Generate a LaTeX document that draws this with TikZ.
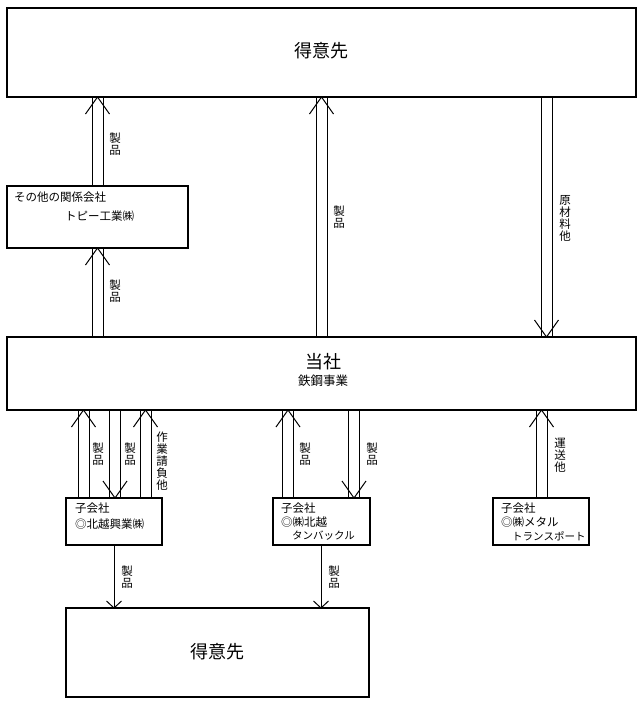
\documentclass[tikz,border=0pt]{standalone}
\usepackage{fontspec}
\setmainfont{Noto Sans CJK JP}
\usetikzlibrary{calc}
\tikzset{
  box/.style={draw, line width=1.3pt, inner sep=0pt, outer sep=0pt},
  arr/.style={line width=1pt, line join=miter},
  lbl/.style={font=\fontsize{11.5}{12}\selectfont, align=center, inner sep=0pt},
  txt/.style={font=\fontsize{11.5}{13}\selectfont, inner sep=0pt, anchor=west},
  big/.style={font=\fontsize{18}{20}\selectfont, inner sep=0pt},
}
\newcommand\dblarr[3]{%
  \coordinate (s) at (#1,0 |- #2);
  \coordinate (t) at (#1,0 |- #3);
  \draw[arr] ($(s)+(-5.5,0)$) -- ($(t)+(-5.5,0)$);
  \draw[arr] ($(s)+(5.5,0)$) -- ($(t)+(5.5,0)$);
  \draw[arr] ($(t)!17pt!(s)+(-12,0)$) -- (t) -- ($(t)!17pt!(s)+(12,0)$);
}
\newcommand\sglarr[3]{%
  \coordinate (s) at (#1,0 |- #2);
  \coordinate (t) at (#1,0 |- #3);
  \draw[arr] (s) -- (t);
  \draw[arr] ($(t)!7pt!(s)+(-7.5,0)$) -- (t) -- ($(t)!7pt!(s)+(7.5,0)$);
}
\begin{document}
\begin{tikzpicture}[x=1pt, y=-1pt]
\useasboundingbox (0,0) rectangle (642,705);
% boxes
\node[box, minimum width=629pt, minimum height=89pt] (top) at (321.5,52.5) {};
\node[box, minimum width=181pt, minimum height=62pt] (tobi) at (97.5,217) {};
\node[box, minimum width=629pt, minimum height=73pt] (hq) at (321.5,373.5) {};
\node[box, minimum width=96pt, minimum height=47pt] (sub1) at (114,521.5) {};
\node[box, minimum width=97pt, minimum height=47pt] (sub2) at (321.5,521.5) {};
\node[box, minimum width=96pt, minimum height=47pt] (sub3) at (541,521.5) {};
\node[box, minimum width=303pt, minimum height=89pt] (cust) at (217.5,652.5) {};
% texts
\node[big] (t1) at (321,51) {得意先};
\node[txt] (t2) at (14,197) {その他の関係会社};
\node[txt] (t3) at (65,216) {トピー工業㈱};
\node[big] (t4) at (323,362) {当社};
\node[font=\fontsize{12.5}{14}\selectfont, inner sep=0] (t5) at (323,381) {鉄鋼事業};
\node[txt] (t6) at (75,508) {子会社};
\node[txt] (t7) at (75,524) {◎北越興業㈱};
\node[txt] (t8) at (281,508) {子会社};
\node[txt] (t9) at (281,522) {◎㈱北越};
\node[txt, font=\fontsize{10.5}{12}\selectfont] (t10) at (292,536) {タンバックル};
\node[txt] (t11) at (501,508) {子会社};
\node[txt] (t12) at (501,522) {◎㈱メタル};
\node[txt, font=\fontsize{10.5}{12}\selectfont] (t13) at (512,536) {トランスポート};
\node[big] (t14) at (217,652) {得意先};
% arrows
\dblarr{97.5}{tobi.north}{top.south}
\node[lbl] (l1) at (115,144) {製\\品};
\dblarr{97.5}{hq.north}{tobi.south}
\node[lbl] (l2) at (115,291) {製\\品};
\dblarr{321.5}{hq.north}{top.south}
\node[lbl] (l3) at (339,217) {製\\品};
\dblarr{546.5}{top.south}{hq.north}
\node[lbl] (l4) at (565,218) {原\\材\\料\\他};
\dblarr{83.5}{sub1.north}{hq.south}
\node[lbl] (l5) at (98,454) {製\\品};
\dblarr{115}{hq.south}{sub1.north}
\node[lbl] (l6) at (130,454) {製\\品};
\dblarr{145.5}{sub1.north}{hq.south}
\node[lbl] (l7) at (162,461) {作\\業\\請\\負\\他};
\dblarr{288}{sub2.north}{hq.south}
\node[lbl] (l8) at (305,454) {製\\品};
\dblarr{354}{hq.south}{sub2.north}
\node[lbl] (l9) at (372,454) {製\\品};
\dblarr{541.5}{sub3.north}{hq.south}
\node[lbl] (l10) at (560,455) {運\\送\\他};
\sglarr{114}{sub1.south}{cust.north}
\node[lbl] (l11) at (127,577) {製\\品};
\sglarr{321}{sub2.south}{cust.north}
\node[lbl] (l12) at (334,577) {製\\品};
\end{tikzpicture}
\end{document}
